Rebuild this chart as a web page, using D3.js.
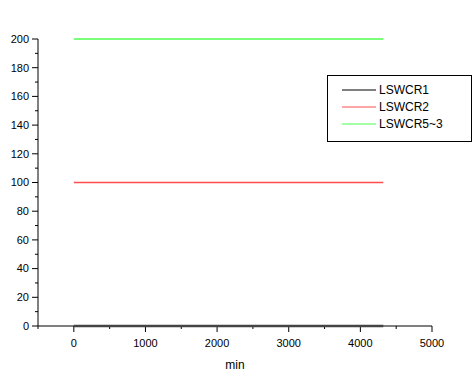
<!DOCTYPE html>
<html>
<head>
<style>
  body { margin: 0; background: #fff; }
  svg { display: block; font-family: "Liberation Sans", Arial, sans-serif; }
</style>
<script src="https://d3js.org/d3.v7.min.js"></script>
</head>
<body>
<div id="chart"></div>
<script>
// data
const times = [0, 4320];
const seriesNames = ["LSWCR1", "LSWCR2", "LSWCR5~3"];
const seriesColors = ["#000000", "#ff0000", "#00ff00"];
const lswcr1 = [0, 0];
const lswcr2 = [100, 100];
const lswcr53 = [200, 200];
const xTicks = [0, 1000, 2000, 3000, 4000, 5000];
const yTicks = [0, 20, 40, 60, 80, 100, 120, 140, 160, 180, 200];

const W = 474, H = 377;
const svg = d3.select("#chart").append("svg").attr("width", W).attr("height", H);

const x = d3.scaleLinear().domain([-500, 5000]).range([38, 432]);
const y = d3.scaleLinear().domain([0, 200]).range([326, 39]);

// minor ticks
const xMinor = d3.range(-500, 5001, 500).filter(v => v % 1000 !== 0);
const yMinor = d3.range(10, 200, 20);

// x axis
const gx = svg.append("g").attr("transform", "translate(0,326)");
gx.append("line").attr("x1", 38).attr("x2", 432).attr("stroke", "#000");
gx.selectAll(".maj").data(xTicks).join("line")
  .attr("x1", d => x(d)).attr("x2", d => x(d)).attr("y1", 0).attr("y2", 6).attr("stroke", "#000");
gx.selectAll(".min").data(xMinor).join("line")
  .attr("x1", d => x(d)).attr("x2", d => x(d)).attr("y1", 0).attr("y2", 3).attr("stroke", "#000");
gx.selectAll("text").data(xTicks).join("text")
  .attr("x", d => x(d)).attr("y", 21).attr("text-anchor", "middle")
  .attr("font-size", 11).text(d => d);
svg.append("text").attr("x", 235).attr("y", 369).attr("text-anchor", "middle")
  .attr("font-size", 12).text("min");

// y axis
const gy = svg.append("g").attr("transform", "translate(38,0)");
gy.append("line").attr("y1", 39).attr("y2", 326).attr("stroke", "#000");
gy.selectAll(".maj").data(yTicks).join("line")
  .attr("y1", d => y(d)).attr("y2", d => y(d)).attr("x1", 0).attr("x2", -6).attr("stroke", "#000");
gy.selectAll(".min").data(yMinor).join("line")
  .attr("y1", d => y(d)).attr("y2", d => y(d)).attr("x1", 0).attr("x2", -3).attr("stroke", "#000");
gy.selectAll("text").data(yTicks).join("text")
  .attr("x", -9).attr("y", d => y(d)).attr("dy", "0.35em").attr("text-anchor", "end")
  .attr("font-size", 11).text(d => d);

// series lines
const series = [lswcr1, lswcr2, lswcr53];
const line = d3.line().x((d, i) => x(times[i])).y(d => y(d));
series.forEach((vals, i) => {
  svg.append("path").datum(vals).attr("d", line).attr("fill", "none")
    .attr("stroke", i === 0 ? "#444" : seriesColors[i])
    .attr("stroke-opacity", i === 0 ? 1 : 0.7)
    .attr("stroke-width", i === 0 ? 2.5 : 1.5);
});

// legend
const lg = svg.append("g");
lg.append("rect").attr("x", 327.5).attr("y", 75.5).attr("width", 144).attr("height", 66)
  .attr("fill", "#fff").attr("stroke", "#000");
seriesNames.forEach((name, i) => {
  const ly = 90 + i * 17;
  lg.append("line").attr("x1", 342).attr("x2", 376).attr("y1", ly).attr("y2", ly)
    .attr("stroke", seriesColors[i]).attr("stroke-opacity", i === 0 ? 1 : 0.7);
  lg.append("text").attr("x", 379).attr("y", ly).attr("dy", "0.35em")
    .attr("font-size", 12).text(name);
});
</script>
</body>
</html>
